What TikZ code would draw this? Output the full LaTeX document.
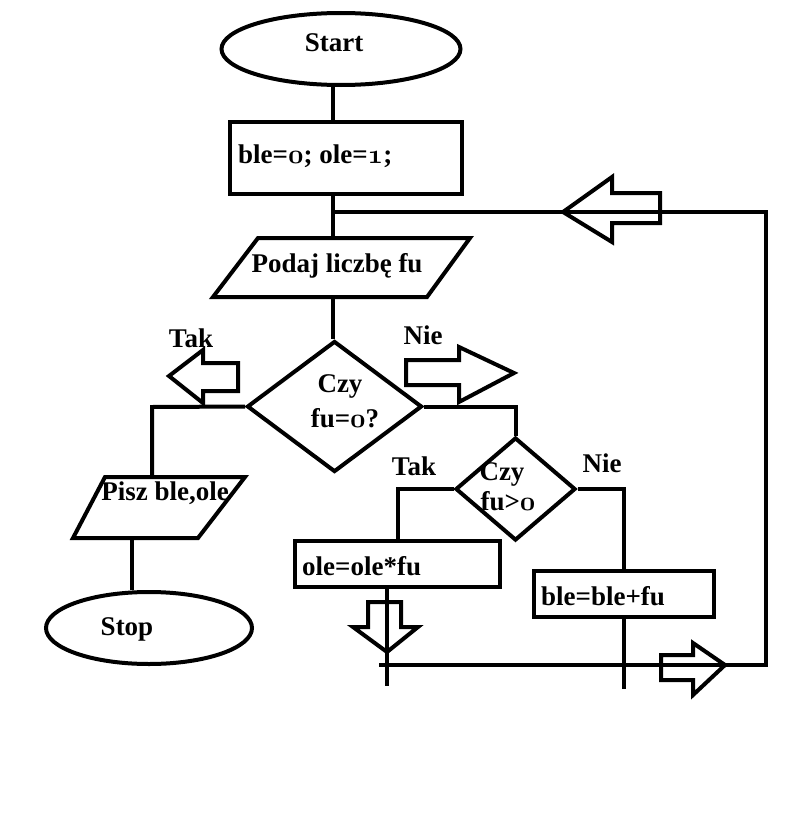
\documentclass[tikz,border=0pt]{standalone}
\usepackage{fix-cm}
\usepackage{fontspec}
\setmainfont{Liberation Serif}
\usetikzlibrary{shapes.geometric,positioning}
\newcommand\osf[1]{{\usefont{OML}{cmm}{b}{it}#1}}

\begin{document}
\begin{tikzpicture}[x=1pt,y=-1pt]
\tikzstyle{flow} = [line width=4pt]
\tikzstyle{term} = [ellipse, draw, flow, inner sep=0pt]
\tikzstyle{proc} = [rectangle, draw, flow, inner sep=0pt]
\tikzstyle{decide} = [diamond, draw, flow, inner sep=0pt]
\tikzset{txt/.style={font=\fontsize{27}{32}\selectfont\bfseries, inner sep=0pt}}
\useasboundingbox (0,0) rectangle (807,816);

% shapes
\node[term, minimum width=239pt, minimum height=72pt] (start) at (341,49) {};
\node[txt, anchor=base] (startt) at (334,52) {Start};
\node[proc, minimum width=232pt, minimum height=72pt] (ini) at (346,158) {};
\node[txt, anchor=base west] (init) at (238,163) {ble=\osf{0}; ole=\osf{1};};
\draw[flow] (213,297) coordinate (podajsw) -- (258,238) -- (470,238) coordinate (podajne) -- (427,297) -- cycle;
\node[txt, anchor=base] (podajt) at (337,272) {Podaj liczbę fu};
\node[decide, minimum width=175pt, minimum height=131pt] (q1) at (334.5,406.5) {};
\node[txt, anchor=base] (q1a) at (340,392) {Czy};
\node[txt, anchor=base] (q1b) at (345,427) {fu=\osf{0}?};
\node[decide, minimum width=120pt, minimum height=103pt] (q2) at (515.5,489) {};
\node[txt, anchor=base] (q2a) at (502,480) {Czy};
\node[txt, anchor=base] (q2b) at (508,510) {fu>\osf{0}};
\draw[flow] (73,538) coordinate (piszsw) -- (105,477) -- (245,477) coordinate (piszne) -- (198,538) -- cycle;
\node[txt, anchor=base] (piszt) at (165,500) {Pisz ble,ole};
\node[term, minimum width=206pt, minimum height=72pt] (stop) at (149,628) {};
\node[txt, anchor=base] (stopt) at (127,635) {Stop};
\node[proc, minimum width=205pt, minimum height=46pt] (ole) at (397.5,564) {};
\node[txt, anchor=base west] (olet) at (302,575) {ole=ole*fu};
\node[proc, minimum width=180pt, minimum height=46pt] (ble) at (624,594) {};
\node[txt, anchor=base west] (blet) at (541,605) {ble=ble+fu};

% branch labels
\node[txt, anchor=base] (tak1) at (191,347) {Tak};
\node[txt, anchor=base] (nie1) at (423,344) {Nie};
\node[txt, anchor=base] (tak2) at (414,475) {Tak};
\node[txt, anchor=base] (nie2) at (602,472) {Nie};

% connectors
\coordinate (col) at (333,0);
\draw[flow] (start.south -| col) -- (ini.north -| col);
\draw[flow] (ini.south -| col) -- (podajne -| col);
\draw[flow] (podajsw -| col) -- (q1.north -| col);
\coordinate (loopin) at (333,212);
\coordinate (loopne) at (766,212);
\coordinate (loopse) at (766,665);
\coordinate (joinw) at (379,665);
\draw[flow] (joinw) -- (loopse) -- (loopne) -- (loopin);
\coordinate (yesl) at (152,407);
\draw[flow] (q1.west) -- (yesl) -- (yesl |- piszne);
\draw[flow] (q1.east) -| (q2.north);
\draw[flow] (q2.west) -| (ole.north);
\draw[flow] (q2.east) -| (ble.north);
\coordinate (outcol) at (132,0);
\draw[flow] (piszsw -| outcol) -- (stop.north -| outcol);
\coordinate (oleend) at (387,686);
\draw[flow] (ole.south -| oleend) -- (oleend);
\coordinate (bleend) at (624,689);
\draw[flow] (ble.south) -- (bleend);

% hollow arrows
\draw[flow] (563,212) -- (612,177) -- (612,193) -- (660,193) -- (660,223) -- (612,223) -- (612,242) -- cycle;
\draw[flow] (169,376) -- (203,350) -- (203,363) -- (238,363) -- (238,391) -- (203,391) -- (203,403) -- cycle;
\draw[flow] (406,360) -- (459,360) -- (459,347) -- (514,373) -- (459,402) -- (459,385) -- (406,385) -- cycle;
\draw[flow] (368,602) -- (401,602) -- (401,627) -- (418,627) -- (387,652) -- (353,627) -- (368,627) -- cycle;
\draw[flow] (661,655) -- (693,655) -- (693,643) -- (725,665) -- (693,695) -- (693,680) -- (661,680) -- cycle;
\end{tikzpicture}
\end{document}
